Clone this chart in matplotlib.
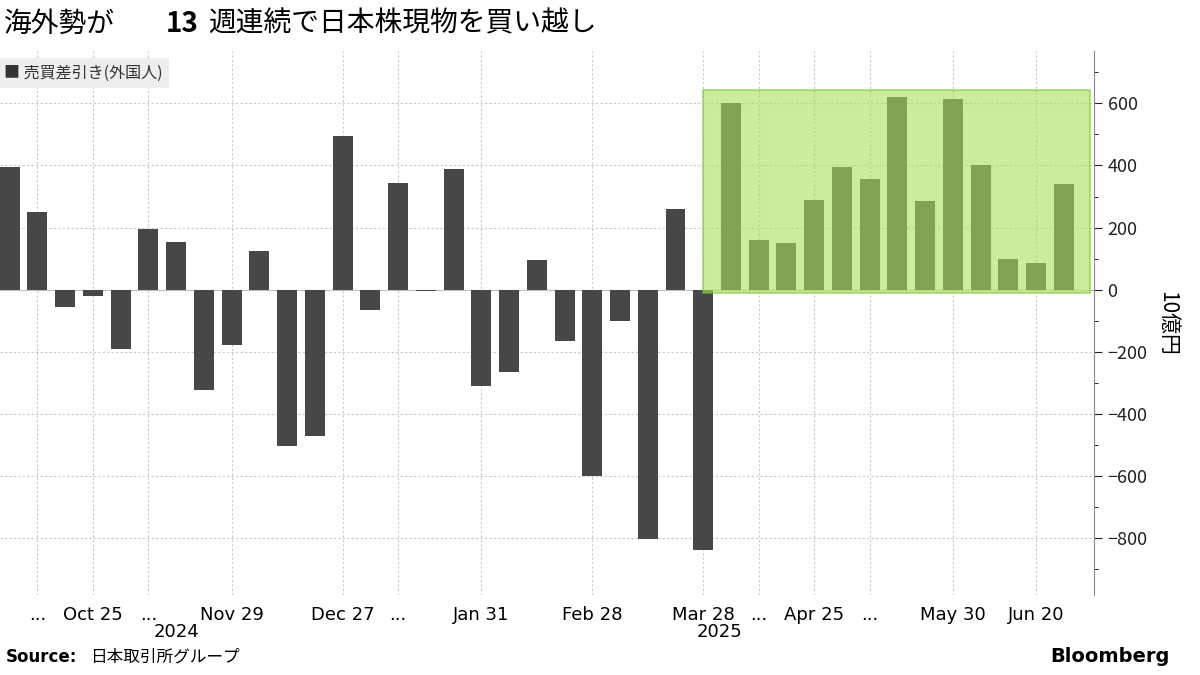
import matplotlib.pyplot as plt
from matplotlib.patches import Rectangle
from matplotlib.ticker import MultipleLocator

plt.rcParams["font.family"] = ["Noto Sans CJK JP", "DejaVu Sans"]

values = [395, 250, -55, -20, -190, 195, 155, -325, -180, 125,
          -505, -470, 495, -65, 345, -5, 390, -310, -265, 95,
          -165, -600, -100, -805, 260, -840, 600, 160, 150, 290,
          395, 355, 620, 285, 615, 400, 100, 85, 340]
tick_pos = [1, 3, 5, 8, 12, 14, 17, 21, 25, 27, 29, 31, 34, 37]
tick_labels = ["...", "Oct 25", "...", "Nov 29", "Dec 27", "...", "Jan 31",
               "Feb 28", "Mar 28", "...", "Apr 25", "...", "May 30", "Jun 20"]
years = [(6, "2024"), (25.6, "2025")]
highlight_start = 25

fig = plt.figure(figsize=(12, 6.75), dpi=100)
ax = fig.add_axes([0.0, 0.118, 0.912, 0.807])
x = range(len(values))
ax.bar(x, values, width=0.72, color="#474747", zorder=2)

ax.set_xlim(-0.35, len(values) + 0.1)
ax.set_ylim(-985, 770)
ax.yaxis.tick_right()
ax.yaxis.set_major_locator(MultipleLocator(200))
ax.yaxis.set_minor_locator(MultipleLocator(100))
ax.tick_params(axis="y", labelsize=13, length=6, direction="out", colors="#222222")
ax.tick_params(axis="y", which="minor", length=3)
ax.set_xticks(tick_pos)
ax.set_xticklabels(tick_labels, fontsize=13, family=["DejaVu Sans"])
ax.tick_params(axis="x", which="both", length=0, pad=8)
ax.grid(True, which="major", axis="both", linestyle=(0, (2, 2)), color="#c8c8c8", lw=0.8, zorder=0)
for s in ["top", "left", "bottom"]:
    ax.spines[s].set_visible(False)
ax.spines["right"].set_color("#888888")
ax.axhline(0, color="#bbbbbb", lw=0.8, zorder=1)
ax.yaxis.set_label_position("right")
ax.set_ylabel("10億円", fontsize=15, rotation=270, labelpad=22)

for xp, t in years:
    ax.text(xp, -1075, t, ha="center", va="top", fontsize=13, family=["DejaVu Sans"])

ax.add_patch(Rectangle((highlight_start, -12), len(values) - highlight_start - 0.05, 655,
                       facecolor="#a8e05a", alpha=0.6, edgecolor="#76c22a", lw=1.2, zorder=3))

fig.text(0.003, 0.965, "海外勢が", fontsize=20, va="center")
fig.text(0.138, 0.965, "13", fontsize=20, va="center", fontweight="bold")
fig.text(0.173, 0.965, "週連続で日本株現物を買い越し", fontsize=20, va="center")
fig.text(0.003, 0.892, "■ 売買差引き(外国人)", fontsize=11.5, va="center", color="#333333",
         bbox=dict(facecolor="#eeeeee", edgecolor="none", pad=5))
fig.text(0.005, 0.02, "Source:", fontsize=12, fontweight="bold", family=["DejaVu Sans"])
fig.text(0.075, 0.02, "日本取引所グループ", fontsize=12)
fig.text(0.975, 0.02, "Bloomberg", fontsize=14, fontweight="bold", ha="right", family=["DejaVu Sans"])
fig.savefig("out.png")
